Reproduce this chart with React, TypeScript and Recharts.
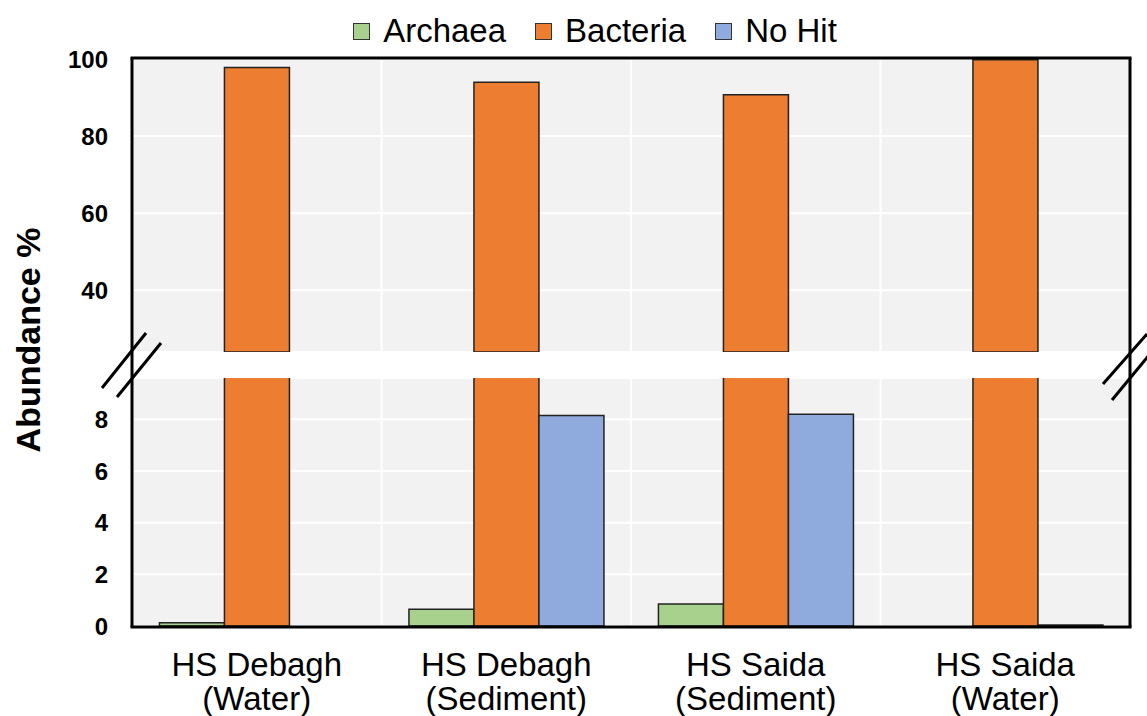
import React from "react";
import { BarChart, Bar, XAxis, YAxis, CartesianGrid } from "recharts";

const CATEGORIES = ["HS Debagh\n(Water)", "HS Debagh\n(Sediment)", "HS Saida\n(Sediment)", "HS Saida\n(Water)"];
const ARCHAEA = [0.13, 0.65, 0.85, 0];
const BACTERIA = [97.8, 94.0, 90.7, 99.8];
const NO_HIT = [0, 8.15, 8.2, 0.04];
const SERIES = ["Archaea", "Bacteria", "No Hit"];
const COLORS = ["#A9D18E", "#ED7D31", "#8FAADC"];
const TOP_TICKS = [40, 60, 80, 100];
const BOTTOM_TICKS = [0, 2, 4, 6, 8];
const TOP_DOMAIN = [24, 100];
const BOTTOM_DOMAIN = [0, 9.6];

const data = CATEGORIES.map((c, i) => ({
  category: c,
  Archaea: ARCHAEA[i],
  Bacteria: BACTERIA[i],
  "No Hit": NO_HIT[i],
}));

const W = 1147;
const H = 716;
const PLOT_LEFT = 132;
const PLOT_RIGHT = 1130;
const TOP_Y = 59;
const GAP_TOP = 352;
const GAP_BOTTOM = 378;
const BOTTOM_Y = 626;
const FONT = "'Liberation Sans', Arial, Helvetica, sans-serif";

const vGen = ({ offset }: any) => [1, 2, 3].map((i) => offset.left + (offset.width * i) / 4);

const XTick = (props: any) => {
  const { x, y, payload } = props;
  const lines = String(payload.value).split("\n");
  return (
    <text x={x} y={y} textAnchor="middle" fontFamily={FONT} fontSize={33} fill="#000">
      {lines.map((l, i) => (
        <tspan key={i} x={x} dy={i === 0 ? 48 : 34}>
          {l}
        </tspan>
      ))}
    </text>
  );
};

const yTickStyle = { fontFamily: FONT, fontSize: 24, fontWeight: 700, fill: "#000" };

export default function App() {
  return (
    <div style={{ position: "absolute", left: 0, top: 0, width: W, height: H, background: "#fff", fontFamily: FONT }}>
      {/* top panel */}
      <div style={{ position: "absolute", left: 0, top: 0 }}>
        <BarChart
          width={W}
          height={H}
          data={data}
          margin={{ top: TOP_Y, right: W - PLOT_RIGHT, bottom: H - GAP_TOP, left: 0 }}
          barCategoryGap="11%"
          barGap={0}
        >
          <CartesianGrid fill="#F2F2F2" stroke="#FFFFFF" strokeWidth={2} verticalCoordinatesGenerator={vGen} />
          <XAxis dataKey="category" hide />
          <YAxis
            width={PLOT_LEFT}
            domain={TOP_DOMAIN}
            ticks={TOP_TICKS}
            allowDataOverflow
            axisLine={false}
            tickLine={false}
            tickSize={0}
            tickMargin={24}
            tick={yTickStyle}
          />
          {SERIES.map((s, i) => (
            <Bar
              key={s}
              dataKey={s}
              fill={s === "Bacteria" ? COLORS[i] : "transparent"}
              stroke={s === "Bacteria" ? "#222" : "none"}
              strokeWidth={1.5}
              isAnimationActive={false}
            />
          ))}
        </BarChart>
      </div>
      {/* bottom panel */}
      <div style={{ position: "absolute", left: 0, top: 0 }}>
        <BarChart
          width={W}
          height={H}
          data={data}
          margin={{ top: GAP_BOTTOM, right: W - PLOT_RIGHT, bottom: 0, left: 0 }}
          barCategoryGap="11%"
          barGap={0}
        >
          <CartesianGrid fill="#F2F2F2" stroke="#FFFFFF" strokeWidth={2} verticalCoordinatesGenerator={vGen} />
          <XAxis
            dataKey="category"
            height={H - BOTTOM_Y}
            axisLine={false}
            tickLine={false}
            tickSize={0}
            tick={<XTick />}
            interval={0}
          />
          <YAxis
            width={PLOT_LEFT}
            domain={BOTTOM_DOMAIN}
            ticks={BOTTOM_TICKS}
            allowDataOverflow
            axisLine={false}
            tickLine={false}
            tickSize={0}
            tickMargin={24}
            tick={yTickStyle}
          />
          {SERIES.map((s, i) => (
            <Bar key={s} dataKey={s} fill={COLORS[i]} stroke="#222" strokeWidth={1.5} isAnimationActive={false} />
          ))}
        </BarChart>
      </div>
      {/* frame and break marks */}
      <svg width={W} height={H} style={{ position: "absolute", left: 0, top: 0, pointerEvents: "none" }}>
        <g stroke="#000" strokeWidth={3} fill="none">
          <line x1={PLOT_LEFT - 1.5} y1={TOP_Y - 1} x2={PLOT_RIGHT + 1.5} y2={TOP_Y - 1} />
          <line x1={PLOT_LEFT - 1.5} y1={BOTTOM_Y + 1} x2={PLOT_RIGHT + 1.5} y2={BOTTOM_Y + 1} />
          <line x1={PLOT_LEFT} y1={TOP_Y - 1} x2={PLOT_LEFT} y2={BOTTOM_Y + 1} />
          <line x1={PLOT_RIGHT} y1={TOP_Y - 1} x2={PLOT_RIGHT} y2={BOTTOM_Y + 1} />
          <line x1={102} y1={388} x2={146} y2={333} />
          <line x1={117} y1={397} x2={161} y2={343} />
          <line x1={1103} y1={384} x2={1147} y2={334} />
          <line x1={1112} y1={400} x2={1150} y2={354} />
        </g>
        <text
          x={0}
          y={0}
          transform={`translate(40, 340) rotate(-90)`}
          textAnchor="middle"
          fontFamily={FONT}
          fontWeight={700}
          fontSize={34}
          fill="#000"
        >
          Abundance %
        </text>
      </svg>
      {/* legend */}
      <div
        style={{
          position: "absolute",
          left: 0,
          width: 1190,
          top: 12,
          display: "flex",
          justifyContent: "center",
          alignItems: "center",
          gap: 29,
          fontSize: 33,
          lineHeight: "38px",
          color: "#000",
        }}
      >
        {SERIES.map((s, i) => (
          <div key={s} style={{ display: "flex", alignItems: "center", gap: 13 }}>
            <div style={{ width: 15, height: 15, background: COLORS[i], border: "1.5px solid #333" }} />
            <span>{s}</span>
          </div>
        ))}
      </div>
    </div>
  );
}
